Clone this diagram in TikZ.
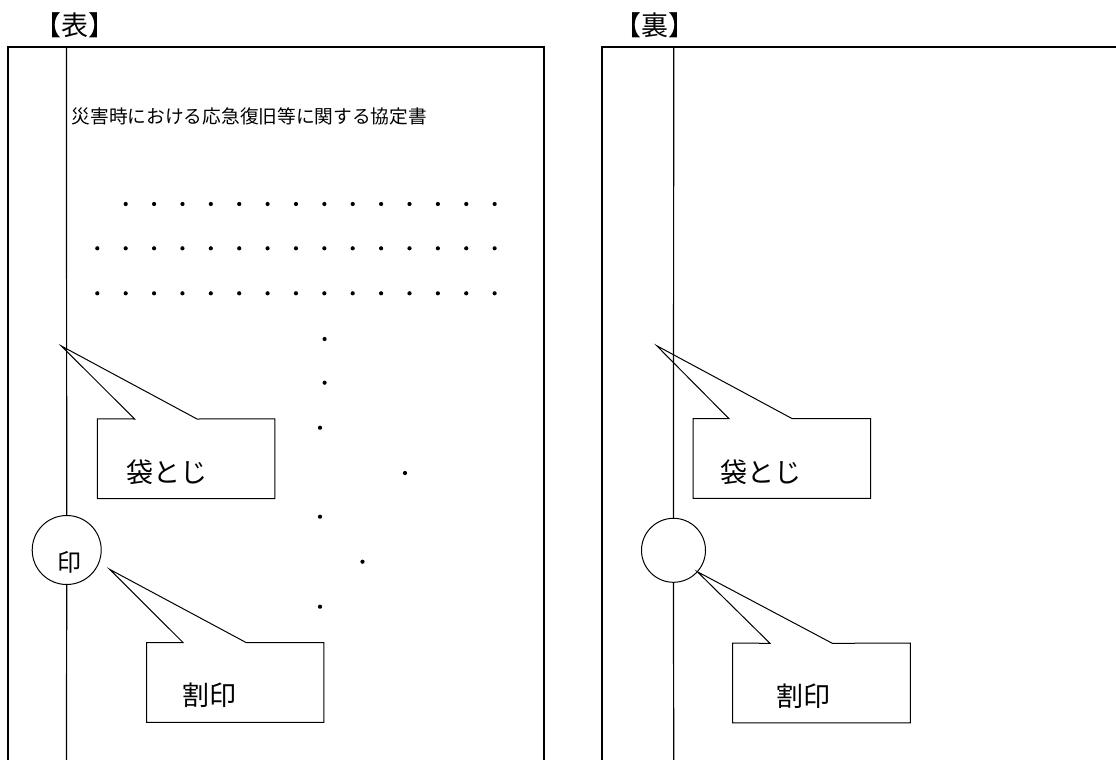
\documentclass[tikz,border=0pt]{standalone}
\usepackage{fontspec}
\newfontfamily\jpfont{Noto Sans CJK JP}
\begin{document}
\begin{tikzpicture}[x=1pt,y=-1pt,
	heading/.style={font=\jpfont\fontsize{27}{27}\selectfont, inner sep=0},
	body/.style={font=\jpfont\fontsize{18.7}{18.7}\selectfont, inner sep=0, anchor=west},
	tag/.style={font=\jpfont\fontsize{27}{27}\selectfont, inner sep=0},
	frame/.style={line width=2pt},
	seam/.style={line width=1.2pt},
	balloon/.style={line width=1pt, line join=miter},
	seal/.style={circle, draw, line width=1pt, inner sep=0},
	]
	\useasboundingbox (0,0) rectangle (1116,760);
	
	% front side
	\node[heading] (front) at (74.5,25.5) {【表】};
	\draw[frame] (8,761) -- (8,47.5) -- (544.3,47.5) -- (544.3,761);
	
	\coordinate (topL) at (66.5,47.5);
	\coordinate (botL) at (66.5,761);
	\node[seal, minimum size=69pt] (sealL) at (66.7,550) {};
	\node[font=\jpfont\fontsize{24}{24}\selectfont, inner sep=0] (inL) at (69.3,562.3) {印};
	\draw[seam] (topL) -- (sealL.north);
	\draw[seam] (sealL.south) -- (botL);
	
	\node[body] (titleL) at (71.5,116.7) {災害時における応急復旧等に関する協定書};
	
	\foreach \i in {0,...,13}
		\fill (125.7+28.38*\i,204) circle (2.1pt);
	\foreach \j in {248.3,293.3}
		\foreach \i in {0,...,14}
			\fill (97.3+28.38*\i,\j) circle (2.1pt);
	\foreach \p in {(324.6,339),(324.6,382.7),(320,427.7),(405,473),(320,516.7),(362.5,561.7),(320,606.7)}
		\fill \p circle (2.1pt);
	
	\node[minimum width=177.1pt, minimum height=79.3pt, inner sep=0] (bagL) at (186,458.7) {};
	\coordinate (bagLtip) at (61.4,346);
	\coordinate (bagLa) at (134.6,419);
	\coordinate (bagLb) at (197,419);
	\draw[balloon] (bagL.north west) -- (bagLa) -- (bagLtip) -- (bagLb) -- (bagL.north east) -- (bagL.south east) -- (bagL.south west) -- cycle;
	\node[tag] (bagLtext) at (167,472.7) {袋とじ};
	
	\node[minimum width=176.8pt, minimum height=79.3pt, inner sep=0] (splitL) at (235.2,682.4) {};
	\coordinate (splitLtip) at (109.6,569.3);
	\coordinate (splitLa) at (183.2,642.7);
	\coordinate (splitLb) at (246.4,642.7);
	\draw[balloon] (splitL.north west) -- (splitLa) -- (splitLtip) -- (splitLb) -- (splitL.north east) -- (splitL.south east) -- (splitL.south west) -- cycle;
	\node[tag] (splitLtext) at (209,695.7) {割印};
	
	% back side
	\node[heading] (back) at (654.5,25.5) {【裏】};
	\draw[frame] (601.7,761) -- (601.7,47) -- (1117,47);
	
	\coordinate (topR) at (673.7,47);
	\coordinate (botR) at (673.7,761);
	\node[seal, minimum size=64pt] (sealR) at (673.5,550.3) {};
	\draw[seam] (topR) -- (sealR.north);
	\draw[seam] (sealR.south) -- (botR);
	
	\node[minimum width=177pt, minimum height=79.3pt, inner sep=0] (bagR) at (781.8,458.4) {};
	\coordinate (bagRtip) at (656.7,345.7);
	\coordinate (bagRa) at (729,418.7);
	\coordinate (bagRb) at (792.3,418.7);
	\draw[balloon] (bagR.north west) -- (bagRa) -- (bagRtip) -- (bagRb) -- (bagR.north east) -- (bagR.south east) -- (bagR.south west) -- cycle;
	\node[tag] (bagRtext) at (760.8,472.7) {袋とじ};
	
	\node[minimum width=177.3pt, minimum height=79.4pt, inner sep=0] (splitR) at (821.4,683) {};
	\coordinate (splitRtip) at (697.3,571.7);
	\coordinate (splitRa) at (770,643.3);
	\coordinate (splitRb) at (832.3,643.3);
	\draw[balloon] (splitR.north west) -- (splitRa) -- (splitRtip) -- (splitRb) -- (splitR.north east) -- (splitR.south east) -- (splitR.south west) -- cycle;
	\node[tag] (splitRtext) at (803.3,696.7) {割印};
\end{tikzpicture}
\end{document}
